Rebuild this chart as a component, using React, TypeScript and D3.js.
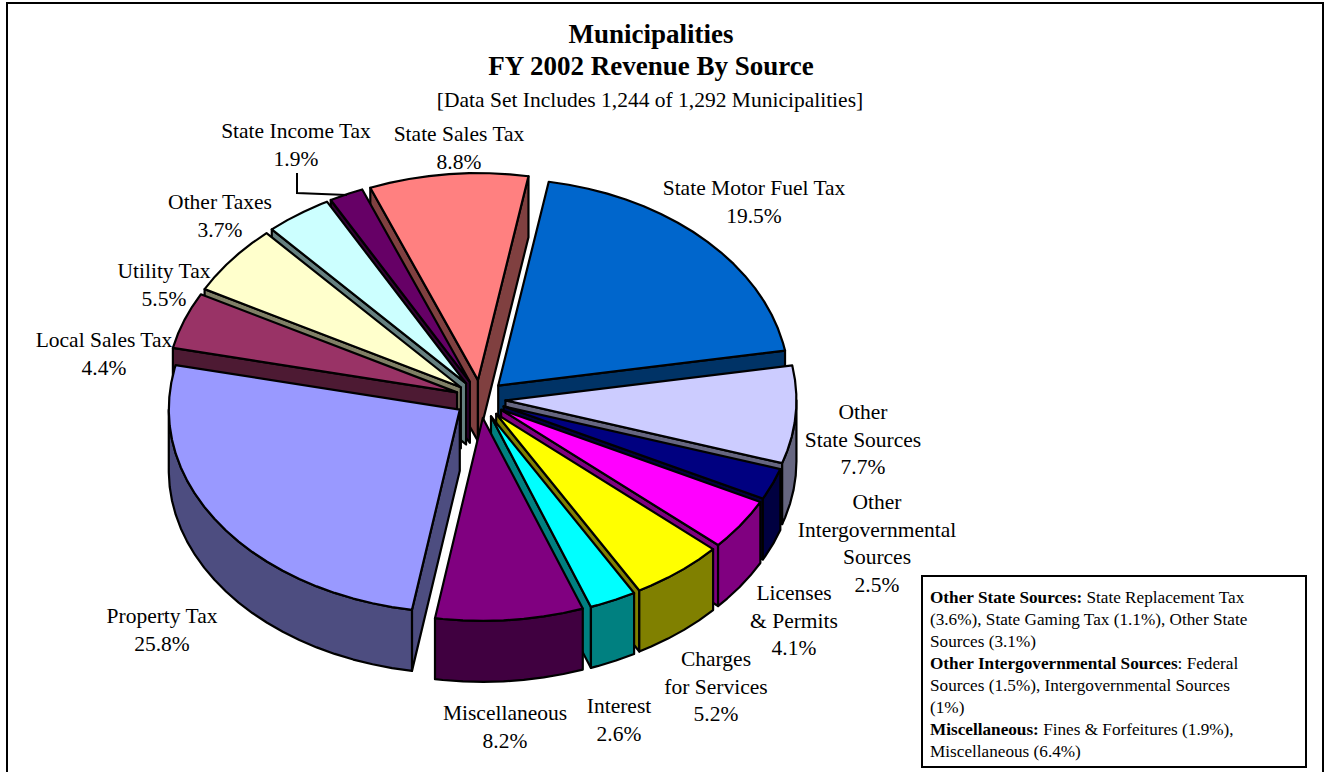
import React from "react";
import * as d3 from "d3";

// Revenue shares, clockwise from the top of the pie.
const sliceNames = [
  "State Motor Fuel Tax", "Other State Sources", "Other Intergovernmental Sources",
  "Licenses & Permits", "Charges for Services", "Interest", "Miscellaneous",
  "Property Tax", "Local Sales Tax", "Utility Tax", "Other Taxes", "State Income Tax", "State Sales Tax",
];
const sliceShares = [19.5, 7.7, 2.5, 4.1, 5.2, 2.6, 8.2, 25.8, 4.4, 5.5, 3.7, 1.9, 8.8];
const sliceFills = [
  "#0066CC", "#CCCCFF", "#000080", "#FF00FF", "#FFFF00", "#00FFFF", "#800080",
  "#9999FF", "#993366", "#FFFFCC", "#CCFFFF", "#660066", "#FF8080",
];

// Category label lines with their centre x and first baseline.
const labelLines = [
  ["State Motor Fuel Tax"],
  ["Other", "State Sources"],
  ["Other", "Intergovernmental", "Sources"],
  ["Licenses", "& Permits"],
  ["Charges", "for Services"],
  ["Interest"],
  ["Miscellaneous"],
  ["Property Tax"],
  ["Local Sales Tax"],
  ["Utility Tax"],
  ["Other Taxes"],
  ["State Income Tax"],
  ["State Sales Tax"],
];
const labelX = [754, 863, 877, 794, 716, 619, 505, 162, 104, 164, 220, 296, 459];
const labelY = [195, 419, 509, 600, 666, 713, 720, 623, 347, 278, 209, 138, 141];

const titleLines = ["Municipalities", "FY 2002 Revenue By Source"];
const subtitle = "[Data Set Includes 1,244 of 1,292 Municipalities]";

const noteLines: [string, string][] = [
  ["Other State Sources:", " State Replacement Tax"],
  ["", "(3.6%), State Gaming Tax (1.1%), Other State"],
  ["", "Sources (3.1%)"],
  ["Other Intergovernmental Sources", ": Federal"],
  ["", "Sources (1.5%), Intergovernmental Sources"],
  ["", "(1%)"],
  ["Miscellaneous:", " Fines & Forfeitures (1.9%),"],
  ["", "Miscellaneous (6.4%)"],
];

// Projection of the tilted pie.
const centerX = 480.5;
const centerY = 399;
const explodeX = 25;
const explodeY = 19;
const radiusX = 291;
const radiusYBack = 207;
const radiusYFront = 203;
const depth = 61;
const rimStep = 4;
const startDeg = 10;
const serif = "'Liberation Serif', 'Times New Roman', serif";

const rad = (deg: number) => (deg * Math.PI) / 180;
const pathOf = d3.line<[number, number]>().x((p) => p[0]).y((p) => p[1]);

function rimPoint(deg: number, ox: number, oy: number): [number, number] {
  const c = Math.cos(rad(deg));
  return [ox + radiusX * Math.sin(rad(deg)), oy - (c > 0 ? radiusYBack : radiusYFront) * c];
}

function rimArc(from: number, to: number, ox: number, oy: number): [number, number][] {
  const pts: [number, number][] = [];
  for (let d = from; d < to; d += rimStep) pts.push(rimPoint(d, ox, oy));
  pts.push(rimPoint(to, ox, oy));
  return pts;
}

const drop = (pts: [number, number][]) => pts.map(([x, y]) => [x, y + depth] as [number, number]);

const pieLayout = d3
  .pie<number>()
  .sort(null)
  .startAngle(rad(startDeg))
  .endAngle(rad(startDeg + 360));

function shade(fill: string) {
  const c = d3.rgb(fill);
  return d3.rgb(c.r / 2, c.g / 2, c.b / 2).formatHex();
}

function buildSlices() {
  return pieLayout(sliceShares).map((arc, i) => {
    const a0 = (arc.startAngle * 180) / Math.PI;
    const a1 = (arc.endAngle * 180) / Math.PI;
    const mid = (a0 + a1) / 2;
    const ox = centerX + explodeX * Math.sin(rad(mid));
    const oy = centerY - explodeY * Math.cos(rad(mid));
    const apex: [number, number] = [ox, oy];
    const top = [apex, ...rimArc(a0, a1, ox, oy)];
    const faces: [number, number][][] = [];
    // A cut face shows only when its outward normal points at the viewer.
    if (-Math.sin(rad(a0)) > 0) {
      const edge = [apex, rimPoint(a0, ox, oy)];
      faces.push([...edge, ...drop(edge).reverse()]);
    }
    if (Math.sin(rad(a1)) > 0) {
      const edge = [apex, rimPoint(a1, ox, oy)];
      faces.push([...edge, ...drop(edge).reverse()]);
    }
    const w0 = Math.max(a0, 90);
    const w1 = Math.min(a1, 270);
    if (w1 > w0) {
      const rim = rimArc(w0, w1, ox, oy);
      faces.push([...rim, ...drop(rim).reverse()]);
    }
    return { i, mid, top, faces };
  });
}

export default function App() {
  const slices = buildSlices();
  // Paint from the back of the pie to the front.
  const ordered = [...slices].sort((a, b) => Math.cos(rad(b.mid)) - Math.cos(rad(a.mid)));
  return (
    <svg
      width={1330}
      height={772}
      style={{ position: "absolute", left: 0, top: 0, background: "#fff" }}
      fontFamily={serif}
      fill="#000"
    >
      <rect x={7} y={3} width={1316} height={790} fill="#fff" stroke="#000" strokeWidth={2} />

      {titleLines.map((t, i) => (
        <text key={t} x={651} y={43 + i * 32} textAnchor="middle" fontSize={27} fontWeight="bold">
          {t}
        </text>
      ))}
      <text x={650} y={107} textAnchor="middle" fontSize={21.5}>
        {subtitle}
      </text>

      {ordered.map((s) => (
        <g key={s.i} stroke="#000" strokeWidth={2.2} strokeLinejoin="round">
          {s.faces.map((f, k) => (
            <path key={k} d={pathOf(f) + "Z"} fill={shade(sliceFills[s.i])} />
          ))}
          <path d={pathOf(s.top) + "Z"} fill={sliceFills[s.i]} />
        </g>
      ))}

      <polyline points="297,173 297,193 347,195" fill="none" stroke="#000" strokeWidth={2} />

      {sliceNames.map((name, i) => {
        const lines = [...labelLines[i], `${sliceShares[i]}%`];
        return (
          <text key={name} x={labelX[i]} textAnchor="middle" fontSize={21.5}>
            {lines.map((l, k) => (
              <tspan key={k} x={labelX[i]} y={labelY[i] + k * 27.7}>
                {l}
              </tspan>
            ))}
          </text>
        );
      })}

      <rect x={922} y={576} width={384} height={191} fill="#fff" stroke="#000" strokeWidth={2} />
      {noteLines.map(([bold, rest], i) => (
        <text key={i} x={930} y={603 + i * 22} fontSize={17.2}>
          {bold && <tspan fontWeight="bold">{bold}</tspan>}
          <tspan>{rest}</tspan>
        </text>
      ))}
    </svg>
  );
}
